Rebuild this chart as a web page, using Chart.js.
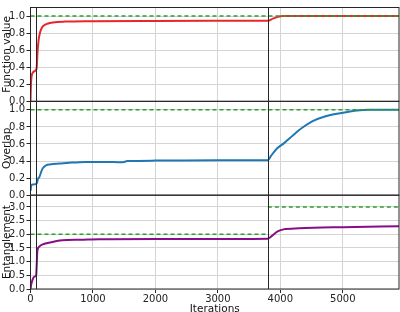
<!DOCTYPE html>
<html>
<head>
<meta charset="utf-8">
<script src="https://cdn.jsdelivr.net/npm/chart.js@4/dist/chart.umd.min.js"></script>
<style>
  html, body { margin: 0; padding: 0; background: #fff; }
  #wrap { width: 400px; height: 312px; }
</style>
</head>
<body>
<div id="wrap"><canvas id="chart" width="400" height="312"></canvas></div>
<script>
// x axis
const xTicks = [0, 1000, 2000, 3000, 4000, 5000];
const xMax = 5900;
const splitIters = [95, 3800];

// function value (red)
const fvIter  = [0, 5, 15, 40, 90, 100, 110, 130, 150, 180, 215, 270, 360, 550, 1000, 2000, 3000, 3800, 3880, 3960, 4030, 5000, 5900];
const fvValue = [0, 0.15, 0.28, 0.34, 0.37, 0.40, 0.55, 0.72, 0.80, 0.86, 0.89, 0.91, 0.925, 0.935, 0.94, 0.943, 0.944, 0.945, 0.97, 0.99, 1.0, 1.0, 1.0];
const fvTarget = [1.0, 1.0];
const fvTicks = [0, 0.2, 0.4, 0.6, 0.8, 1.0];

// overlap (blue)
const ovIter  = [0, 15, 40, 80, 100, 120, 140, 165, 185, 215, 250, 310, 470, 620, 880, 1200, 1450, 1500, 1550, 2000, 3000, 3800, 3850, 3950, 4060, 4200, 4350, 4510, 4700, 5075, 5400, 5900];
const ovValue = [0.05, 0.12, 0.125, 0.13, 0.14, 0.19, 0.21, 0.26, 0.30, 0.33, 0.35, 0.36, 0.37, 0.38, 0.39, 0.39, 0.385, 0.39, 0.40, 0.405, 0.41, 0.41, 0.46, 0.55, 0.61, 0.70, 0.79, 0.866, 0.92, 0.975, 1.0, 1.0];
const ovTarget = [1.0, 1.0];
const ovTicks = [0, 0.2, 0.4, 0.6, 0.8, 1.0];

// entanglement (purple)
const enIter  = [0, 15, 35, 60, 90, 100, 110, 140, 185, 350, 510, 800, 1100, 2000, 3000, 3800, 3870, 3950, 4050, 4300, 5000, 5900];
const enValue = [0, 0.2, 0.35, 0.45, 0.5, 0.9, 1.4, 1.55, 1.62, 1.72, 1.78, 1.80, 1.82, 1.83, 1.83, 1.84, 1.95, 2.1, 2.18, 2.22, 2.26, 2.29];
const enTargetIter = [0, 3800, 3800, 3800, 5900];
const enTarget = [2.0, 2.0, null, 3.0, 3.0];
const enTicks = [0, 0.5, 1.0, 1.5, 2.0, 2.5, 3.0];

const font = { family: 'DejaVu Sans', size: 10 };
const titleFont = { family: 'DejaVu Sans', size: 10.5 };
const gridColor = '#d4d4d4';
const frameColor = '#262626';

const pts = (xs, ys) => xs.map((x, i) => ({ x: x, y: ys[i] }));

function yAxis(title, max, ticks) {
    return {
        type: 'linear',
        position: 'left',
        stack: 'panels',
        stackWeight: 1,
        min: 0,
        max: max,
        afterBuildTicks: axis => { axis.ticks = ticks.map(v => ({ value: v })); },
        afterFit: axis => { axis.width = 30.5; },
        border: { display: false },
        grid: { color: gridColor, lineWidth: 1, tickLength: 4, tickColor: frameColor },
        ticks: { font: font, color: '#222', padding: 1.5, autoSkip: false, callback: v => v.toFixed(1) },
        title: { display: true, text: title, font: titleFont, color: '#111', padding: { top: 1, bottom: 0 } }
    };
}

// panel frames and the two black separator lines
const framePlugin = {
    id: 'frames',
    afterDatasetsDraw(chart) {
        const ctx = chart.ctx;
        const a = chart.chartArea;
        const xs = chart.scales.x;
        ctx.save();
        ctx.strokeStyle = frameColor;
        ctx.lineWidth = 1;
        ['y1', 'y2', 'y3'].forEach(id => {
            const s = chart.scales[id];
            ctx.strokeRect(a.left, s.top, a.right - a.left, s.bottom - s.top);
        });
        splitIters.forEach(it => {
            const px = Math.round(xs.getPixelForValue(it)) + 0.5;
            ctx.beginPath();
            ctx.moveTo(px, a.top);
            ctx.lineTo(px, a.bottom);
            ctx.stroke();
        });
        ctx.restore();
    }
};

const dashed = { borderColor: '#2ca02c', borderWidth: 1.5, borderDash: [4, 3], pointRadius: 0, spanGaps: false };
const solid = { borderWidth: 2, pointRadius: 0, cubicInterpolationMode: 'monotone' };

new Chart(document.getElementById('chart'), {
    type: 'line',
    data: {
        datasets: [
            Object.assign({ data: pts([0, xMax], fvTarget), yAxisID: 'y1' }, dashed),
            Object.assign({ data: pts(fvIter, fvValue), yAxisID: 'y1', borderColor: '#e8262b' }, solid),
            Object.assign({ data: pts([0, xMax], ovTarget), yAxisID: 'y2' }, dashed),
            Object.assign({ data: pts(ovIter, ovValue), yAxisID: 'y2', borderColor: '#1f77b4' }, solid),
            Object.assign({ data: pts(enTargetIter, enTarget), yAxisID: 'y3' }, dashed),
            Object.assign({ data: pts(enIter, enValue), yAxisID: 'y3', borderColor: '#880d88' }, solid)
        ]
    },
    options: {
        responsive: false,
        animation: false,
        layout: { padding: { top: 0.5, right: 1, left: 0, bottom: 0 } },
        plugins: { legend: { display: false }, tooltip: { enabled: false } },
        scales: {
            x: {
                type: 'linear',
                min: 0,
                max: xMax,
                afterBuildTicks: axis => { axis.ticks = xTicks.map(v => ({ value: v })); },
                afterFit: axis => { axis.height = 23; },
                border: { display: false },
                grid: { color: gridColor, lineWidth: 1, tickLength: 4, tickColor: frameColor },
                ticks: { font: font, color: '#222', padding: 0, maxRotation: 0, autoSkip: false, callback: v => String(v) },
                title: { display: true, text: 'Iterations', font: titleFont, color: '#111', padding: { top: 0, bottom: -4 } }
            },
            // stacked axes are placed bottom-up in definition order
            y3: yAxis('Entanglement', 3.43, enTicks),
            y2: yAxis('Overlap', 1.1, ovTicks),
            y1: yAxis('Function value', 1.1, fvTicks)
        }
    },
    plugins: [framePlugin]
});
</script>
</body>
</html>
